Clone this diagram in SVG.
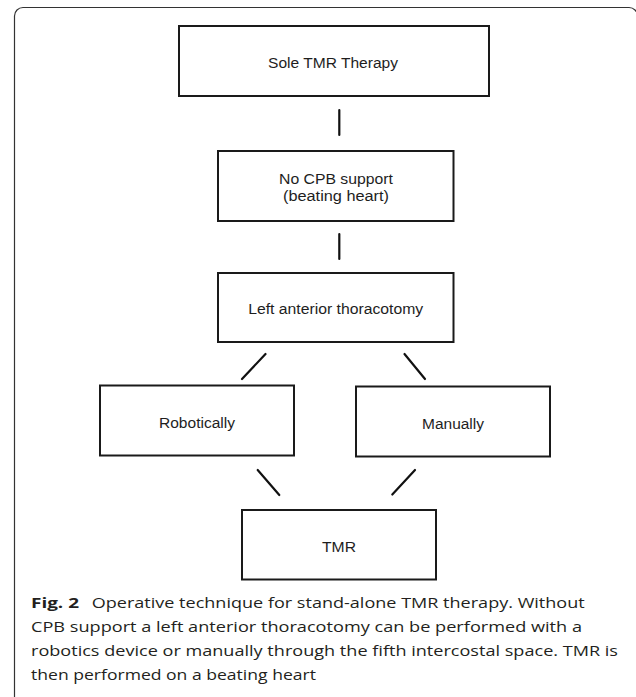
<svg xmlns="http://www.w3.org/2000/svg" width="636" height="697" viewBox="0 0 636 697">
<style>
.box{fill:#fff;stroke:#1a1a1a;stroke-width:2}
.lbl{font-family:"Liberation Sans",Arial,sans-serif;font-size:15.5px;fill:#1e1e1e;text-anchor:middle}
.con line{stroke:#111;stroke-width:2.2;stroke-linecap:round}
.cap{font-family:"Open Sans","Noto Sans",sans-serif;font-size:15px;fill:#231f20}
</style>
<rect width="636" height="697" fill="#fff"/>
<path d="M14.5,697 V16 A8.5,8.5 0 0 1 23,7.5 H629 A8.5,8.5 0 0 1 637.5,16 V697" fill="none" stroke="#333" stroke-width="1.2"/>
<g id="n1"><rect class="box" x="179" y="26" width="310" height="70"/><text class="lbl" x="333" y="68" textLength="130" lengthAdjust="spacingAndGlyphs">Sole TMR Therapy</text></g>
<g id="n2"><rect class="box" x="218" y="151" width="235.5" height="70"/><text class="lbl" x="336" y="184" textLength="114" lengthAdjust="spacingAndGlyphs">No CPB support</text><text class="lbl" x="336" y="201" textLength="106" lengthAdjust="spacingAndGlyphs">(beating heart)</text></g>
<g id="n3"><rect class="box" x="218" y="273" width="235.5" height="69"/><text class="lbl" x="335.7" y="314" textLength="175" lengthAdjust="spacingAndGlyphs">Left anterior thoracotomy</text></g>
<g id="n4"><rect class="box" x="100" y="385.5" width="194" height="70"/><text class="lbl" x="197" y="427.5" textLength="76" lengthAdjust="spacingAndGlyphs">Robotically</text></g>
<g id="n5"><rect class="box" x="356" y="386.5" width="194" height="70"/><text class="lbl" x="453" y="428.5" textLength="62" lengthAdjust="spacingAndGlyphs">Manually</text></g>
<g id="n6"><rect class="box" x="242" y="510" width="194" height="69.5"/><text class="lbl" x="339" y="552" textLength="34" lengthAdjust="spacingAndGlyphs">TMR</text></g>
<g id="connectors" class="con">
<line x1="339.3" y1="110" x2="339.3" y2="135"/>
<line x1="339.3" y1="234" x2="339.3" y2="259"/>
<line x1="265.5" y1="354" x2="242" y2="379"/>
<line x1="404.5" y1="354" x2="425" y2="379"/>
<line x1="257.7" y1="470" x2="279.3" y2="495"/>
<line x1="415" y1="470" x2="392.3" y2="494.5"/>
</g>
<g id="caption" class="cap">
<text x="31" y="608"><tspan font-weight="bold" textLength="48" lengthAdjust="spacingAndGlyphs">Fig. 2</tspan></text>
<text x="91.7" y="608" textLength="493" lengthAdjust="spacingAndGlyphs">Operative technique for stand-alone TMR therapy. Without</text>
<text x="31" y="632" textLength="551" lengthAdjust="spacingAndGlyphs">CPB support a left anterior thoracotomy can be performed with a</text>
<text x="31" y="656" textLength="587" lengthAdjust="spacingAndGlyphs">robotics device or manually through the fifth intercostal space. TMR is</text>
<text x="31" y="679.5" textLength="285" lengthAdjust="spacingAndGlyphs">then performed on a beating heart</text>
</g>
</svg>
